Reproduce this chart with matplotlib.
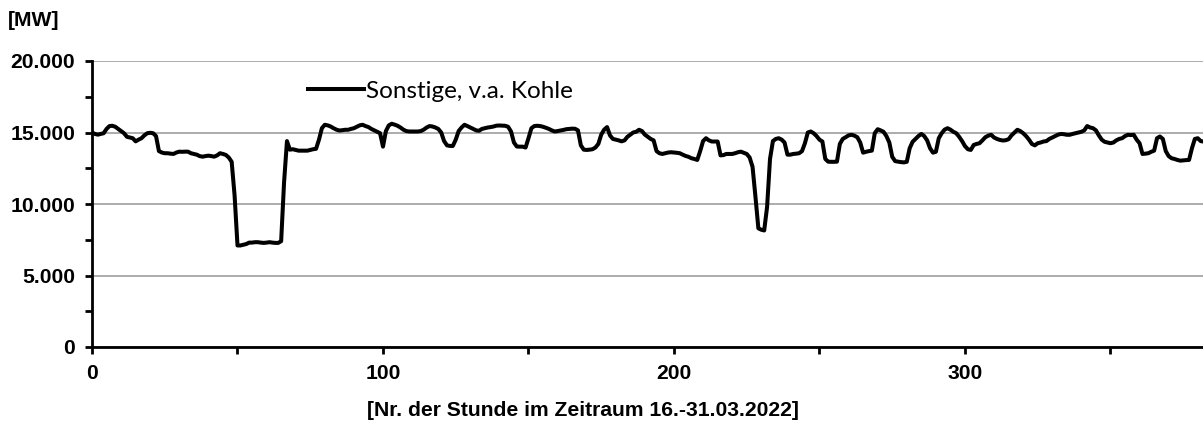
import matplotlib.pyplot as plt
from matplotlib.ticker import FuncFormatter, MultipleLocator

# hourly values, 16.-31.03.2022, one row per day (24 h)
kohle = [
    15000, 14900, 14850, 14900, 14950, 15250, 15450, 15470, 15400, 15250, 15100, 14950,
    14700, 14650, 14600, 14380, 14500, 14600, 14800, 14950, 14980, 14950, 14750, 13700,
    13600, 13550, 13550, 13520, 13500, 13600, 13660, 13650, 13660, 13660, 13550, 13500,
    13450, 13350, 13310, 13350, 13380, 13350, 13310, 13400, 13550, 13500, 13430, 13250,
    12950, 10600, 7100, 7100, 7150, 7200, 7300, 7300, 7330, 7330, 7300, 7280,
    7300, 7330, 7300, 7280, 7280, 7400, 11500, 14400, 13800, 13830, 13780, 13730,
    13730, 13730, 13730, 13780, 13830, 13860, 14500, 15300, 15540, 15500, 15420, 15300,
    15200, 15140, 15160, 15190, 15190, 15250, 15300, 15400, 15500, 15540, 15450, 15380,
    15250, 15150, 15050, 14950, 14010, 15100, 15500, 15610, 15550, 15470, 15350, 15200,
    15100, 15070, 15070, 15070, 15070, 15100, 15200, 15350, 15450, 15420, 15350, 15250,
    15000, 14400, 14100, 14060, 14060, 14500, 15100, 15350, 15540, 15450, 15350, 15250,
    15150, 15120, 15250, 15300, 15350, 15380, 15420, 15480, 15490, 15480, 15470, 15400,
    15070, 14300, 14020, 14010, 14010, 13950, 14600, 15300, 15450, 15470, 15450, 15400,
    15330, 15250, 15150, 15070, 15100, 15140, 15180, 15230, 15250, 15270, 15260, 15150,
    14100, 13800, 13780, 13800, 13830, 13950, 14200, 14850, 15200, 15380, 14800, 14550,
    14500, 14450, 14380, 14450, 14700, 14850, 15000, 15050, 15190, 15100, 14850, 14700,
    14550, 14450, 13700, 13550, 13500, 13550, 13600, 13620, 13600, 13580, 13550, 13450,
    13360, 13300, 13200, 13150, 13080, 13700, 14400, 14600, 14450, 14370, 14370, 14370,
    13400, 13420, 13500, 13500, 13500, 13550, 13620, 13660, 13580, 13500, 13250, 12600,
    10500, 8300, 8200, 8150, 9800, 13150, 14400, 14550, 14600, 14500, 14300, 13450,
    13450, 13500, 13520, 13550, 13700, 14250, 15000, 15070, 14950, 14750, 14500, 14370,
    13150, 12960, 12950, 12950, 12960, 14200, 14550, 14670, 14800, 14840, 14780, 14670,
    14300, 13590, 13650, 13700, 13730, 14950, 15230, 15150, 15050, 14750, 14300, 13300,
    13000, 12960, 12930, 12910, 12950, 13900, 14350, 14550, 14750, 14900, 14750, 14450,
    13900, 13590, 13650, 14600, 14950, 15200, 15300, 15200, 15050, 14950, 14700, 14400,
    14050, 13830, 13780, 14130, 14200, 14250, 14450, 14670, 14780, 14840, 14650, 14550,
    14480, 14440, 14460, 14530, 14800, 15000, 15190, 15100, 14950, 14750, 14500, 14200,
    14100, 14250, 14300, 14370, 14400, 14550, 14650, 14750, 14850, 14900, 14880, 14840,
    14840, 14900, 14950, 15000, 15050, 15150, 15450, 15350, 15300, 15150, 14800, 14500,
    14350, 14300, 14250, 14300, 14450, 14550, 14600, 14750, 14840, 14820, 14840, 14500,
    14250, 13500, 13520, 13550, 13650, 13730, 14600, 14720, 14550, 13700, 13350, 13200,
    13150, 13080, 13030, 13050, 13070, 13080, 13900, 14550, 14600, 14400, 14370, 14300,
]
stunden = list(range(len(kohle)))

fig = plt.figure(figsize=(12.03, 4.25), dpi=100)
ax = fig.add_axes([92 / 1203, 78 / 425, 1 - 92 / 1203, 286 / 425])

ax.plot(stunden, kohle, color='black', linewidth=2.9, solid_joinstyle='round',
        label='Sonstige, v.a. Kohle')

ax.set_xlim(0, 381.8)
ax.set_ylim(0, 20000)
ax.xaxis.set_major_locator(MultipleLocator(100))
ax.xaxis.set_minor_locator(MultipleLocator(50))
ax.yaxis.set_major_locator(MultipleLocator(5000))
ax.yaxis.set_minor_locator(MultipleLocator(2500))
ax.yaxis.set_major_formatter(FuncFormatter(lambda v, p: f'{int(v):,}'.replace(',', '.')))

ax.grid(axis='y', which='major', color='#a6a6a6', linewidth=1.3)
ax.set_axisbelow(True)
for s in ['top', 'right']:
    ax.spines[s].set_visible(False)
for s in ['left', 'bottom']:
    ax.spines[s].set_linewidth(2.0)
ax.tick_params(which='both', direction='out', width=2.0, length=5, color='black')
ax.tick_params(axis='both', which='major', pad=7, labelsize=15.2)
for lab in ax.get_xticklabels() + ax.get_yticklabels():
    lab.set_fontfamily('Liberation Sans')
    lab.set_fontweight('bold')

leg = ax.legend(loc='upper left', bbox_to_anchor=(206 / 1111, 0.965), frameon=False,
                handlelength=2.3, handletextpad=0.1, borderaxespad=0,
                prop={'family': 'Lato', 'size': 17.5})

fig.text(8 / 1203, 1 - 21 / 425, '[MW]', fontfamily='Liberation Sans', fontweight='bold',
         fontsize=15.2, ha='left', va='center')
fig.text(367 / 1203, 1 - 411 / 425, '[Nr. der Stunde im Zeitraum 16.-31.03.2022]',
         fontfamily='Liberation Sans', fontweight='bold', fontsize=15.2, ha='left', va='center')

fig.savefig('out.png', dpi=100)
